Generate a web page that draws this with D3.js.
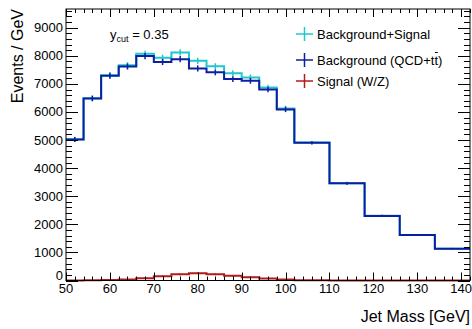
<!DOCTYPE html>
<html>
<head>
<meta charset="utf-8">
<script src="https://cdn.jsdelivr.net/npm/d3@7"></script>
<style>
  html, body { margin: 0; padding: 0; background: #fff; }
  svg { display: block; font-family: "Liberation Sans", Arial, Helvetica, sans-serif; }
</style>
</head>
<body>
<svg id="chart" width="472" height="329"></svg>
<script>
// Bin edges of the jet-mass histogram (GeV)
const binEdges = [50, 54, 58, 62, 66, 70, 74, 78, 82, 86, 90, 94, 98, 102, 110, 118, 126, 134, 142];
// Events / GeV per bin
const background = [5020, 6480, 7290, 7620, 7990, 7780, 7880, 7550, 7410, 7170, 7110, 6800, 6090, 4900, 3460, 2300, 1620, 1130];
const signal     = [0, 5, 15, 40, 80, 150, 220, 260, 220, 165, 115, 70, 36, 10, 3, 1, 0, 0];
const bkgPlusSig = [5025, 6485, 7305, 7660, 8070, 7930, 8120, 7820, 7630, 7380, 7230, 6870, 6125, 4910, 3463, 2301, 1620, 1130];
// Statistical uncertainties per bin
const bkgErr = [90, 100, 105, 110, 110, 110, 110, 110, 105, 105, 105, 100, 95, 60, 50, 40, 35, 30];
const sumErr = [90, 100, 105, 110, 110, 110, 110, 110, 105, 105, 105, 100, 95, 60, 50, 40, 35, 30];
const sigErr = [0, 5, 10, 15, 20, 25, 30, 30, 30, 25, 20, 15, 10, 5, 3, 1, 0, 0];

const xTicks = [50, 60, 70, 80, 90, 100, 110, 120, 130, 140];
const yTicks = [0, 1000, 2000, 3000, 4000, 5000, 6000, 7000, 8000, 9000];

const legendItems = [
  { label: "Background+Signal", color: "#1ec8cc" },
  { label: "Background (QCD+t", bar: "t", tail: ")", color: "#0b1fa0" },
  { label: "Signal (W/Z)", color: "#b51a1a" }
];

const svg = d3.select("#chart");
const frame = { left: 66, right: 470, top: 9, bottom: 280.5 };

const x = d3.scaleLinear().domain([50, 142]).range([frame.left, frame.right]);
const y = d3.scaleLinear().domain([0, 9666]).range([frame.bottom, frame.top]);

// Histogram outline drawn as a step line, with vertical error bars at bin centres
function drawHist(vals, errs, color) {
  const pts = vals.map((v, i) => [binEdges[i], v]);
  pts.push([binEdges[binEdges.length - 1], vals[vals.length - 1]]);
  const line = d3.line().x(d => x(d[0])).y(d => y(d[1])).curve(d3.curveStepAfter);
  svg.append("path").attr("d", line(pts))
    .attr("fill", "none").attr("stroke", color).attr("stroke-width", 2);
  svg.append("g").selectAll("line").data(vals).join("line")
    .attr("x1", (d, i) => x((binEdges[i] + binEdges[i + 1]) / 2))
    .attr("x2", (d, i) => x((binEdges[i] + binEdges[i + 1]) / 2))
    .attr("y1", (d, i) => y(d - errs[i]))
    .attr("y2", (d, i) => y(d + errs[i]))
    .attr("stroke", color).attr("stroke-width", 1.5);
}

drawHist(bkgPlusSig, sumErr, legendItems[0].color);
drawHist(background, bkgErr, legendItems[1].color);
drawHist(signal, sigErr, legendItems[2].color);

// Frame
svg.append("rect")
  .attr("x", frame.left).attr("y", frame.top)
  .attr("width", frame.right - frame.left).attr("height", frame.bottom - frame.top)
  .attr("fill", "none").attr("stroke", "#000").attr("stroke-width", 1);

// Inward ticks on all four sides
const xMinor = d3.range(50, 143, 2);
const yMinor = d3.range(0, 9667, 200);
const tickG = svg.append("g").attr("stroke", "#000").attr("stroke-width", 1);
xMinor.forEach(v => {
  const major = v % 10 === 0;
  const len = major ? 8 : 4;
  const px = Math.round(x(v)) + 0.5;
  tickG.append("line").attr("x1", px).attr("x2", px).attr("y1", frame.bottom).attr("y2", frame.bottom - len);
  tickG.append("line").attr("x1", px).attr("x2", px).attr("y1", frame.top).attr("y2", frame.top + len);
});
yMinor.forEach(v => {
  const major = v % 1000 === 0;
  const len = major ? 12 : 6;
  const py = Math.round(y(v)) + 0.5;
  tickG.append("line").attr("x1", frame.left).attr("x2", frame.left + len).attr("y1", py).attr("y2", py);
  tickG.append("line").attr("x1", frame.right).attr("x2", frame.right - len).attr("y1", py).attr("y2", py);
});

// Tick labels
svg.append("g").selectAll("text").data(xTicks).join("text")
  .attr("x", d => x(d)).attr("y", 292.5)
  .attr("text-anchor", "middle").attr("font-size", 13).attr("fill", "#000")
  .text(d => d);
svg.append("g").selectAll("text").data(yTicks).join("text")
  .attr("x", 63).attr("y", d => d === 0 ? y(d) - 0.5 : y(d) + 4.5)
  .attr("text-anchor", "end").attr("font-size", 13).attr("fill", "#000")
  .text(d => d);

// Axis titles
svg.append("text").attr("x", 470).attr("y", 322)
  .attr("text-anchor", "end").attr("font-size", 16).text("Jet Mass [GeV]");
svg.append("text").attr("transform", "translate(23,9) rotate(-90)")
  .attr("text-anchor", "end").attr("font-size", 16).text("Events / GeV");

// Cut annotation
const cut = svg.append("text").attr("x", 110).attr("y", 39).attr("font-size", 13);
cut.append("tspan").text("y");
cut.append("tspan").attr("font-size", 9).attr("dy", 3).text("cut");
cut.append("tspan").attr("dy", -3).text(" = 0.35");

// Legend
const legendY = [34, 60, 81];
legendItems.forEach((item, i) => {
  const g = svg.append("g").attr("transform", `translate(0,${legendY[i]})`);
  g.append("line").attr("x1", 296).attr("x2", 313).attr("y1", 0).attr("y2", 0)
    .attr("stroke", item.color).attr("stroke-width", 1.5);
  g.append("line").attr("x1", 304.5).attr("x2", 304.5).attr("y1", -7).attr("y2", 7)
    .attr("stroke", item.color).attr("stroke-width", 1.5);
  const t = g.append("text").attr("x", 317).attr("y", 4.5).attr("font-size", 13);
  t.append("tspan").text(item.label);
  if (item.bar) {
    // anti-top: a short bar drawn just above the letter
    t.append("tspan").text(item.bar);
    t.append("tspan").text(item.tail);
    const start = t.node().getSubStringLength(0, item.label.length);
    const w = t.node().getSubStringLength(item.label.length, 1);
    g.append("line")
      .attr("x1", 317 + start + 0.5).attr("x2", 317 + start + w - 0.3)
      .attr("y1", -7.5).attr("y2", -7.5)
      .attr("stroke", "#000").attr("stroke-width", 1);
  }
});
</script>
</body>
</html>
